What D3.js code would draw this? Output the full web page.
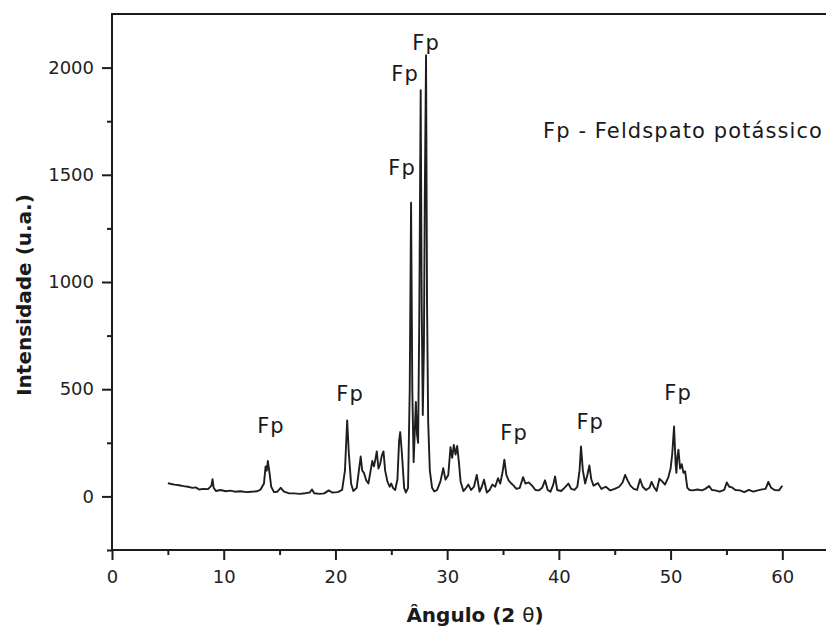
<!DOCTYPE html>
<html>
<head>
<meta charset="utf-8">
<script src="https://cdn.jsdelivr.net/npm/d3@7"></script>
<style>
  body { margin: 0; background: #fff; }
  svg { display: block; font-family: "DejaVu Sans", sans-serif; }
</style>
</head>
<body>
<svg id="xrdSvg" width="826" height="631"></svg>
<script>
      // diffractogram: 2 theta (deg) and intensity (u.a.)
      var angles = [5.0, 5.3, 5.6, 6.0, 6.4, 6.8, 7.2, 7.5, 7.8, 8.2, 8.6, 8.9, 9.0, 9.1, 9.3, 9.7,
        10.2, 10.6, 11.0, 11.5, 12.0, 12.5, 13.0, 13.3, 13.6, 13.75, 13.85, 13.95, 14.1, 14.25, 14.5, 14.8,
        15.1, 15.4, 15.8, 16.3, 16.8, 17.3, 17.7, 17.9, 18.1, 18.6, 19.0, 19.4, 19.7, 20.2, 20.6, 20.85,
        21.05, 21.2, 21.4, 21.6, 21.9, 22.1, 22.26, 22.4, 22.55, 22.75, 22.95, 23.15, 23.3, 23.45, 23.6, 23.7,
        23.85, 24.0, 24.15, 24.3, 24.45, 24.65, 24.85, 25.0, 25.15, 25.35, 25.55, 25.7, 25.8, 25.95, 26.15, 26.3,
        26.5, 26.65, 26.77, 26.88, 27.0, 27.1, 27.2, 27.3, 27.4, 27.5, 27.63, 27.72, 27.82, 27.92, 28.0, 28.11,
        28.2, 28.3, 28.45, 28.65, 28.85, 29.1, 29.4, 29.65, 29.85, 30.1, 30.3, 30.45, 30.6, 30.75, 30.9, 31.05,
        31.2, 31.45, 31.7, 31.9, 32.15, 32.4, 32.65, 32.9, 33.1, 33.3, 33.55, 33.8, 34.05, 34.3, 34.55, 34.75,
        34.95, 35.12, 35.3, 35.5, 35.75, 35.95, 36.2, 36.5, 36.8, 37.0, 37.3, 37.6, 37.9, 38.2, 38.5, 38.76,
        39.0, 39.25, 39.5, 39.66, 39.85, 40.2, 40.5, 40.85, 41.1, 41.4, 41.65, 41.85, 41.98, 42.15, 42.35, 42.55,
        42.73, 42.9, 43.1, 43.5, 43.8, 44.2, 44.6, 45.0, 45.4, 45.7, 45.93, 46.15, 46.4, 46.7, 47.0, 47.27,
        47.5, 47.8, 48.1, 48.3, 48.55, 48.75, 49.0, 49.25, 49.5, 49.8, 50.0, 50.15, 50.31, 50.45, 50.52, 50.6,
        50.7, 50.85, 51.0, 51.15, 51.3, 51.5, 51.7, 52.0, 52.4, 52.8, 53.1, 53.45, 53.7, 54.0, 54.4, 54.8,
        55.03, 55.25, 55.5, 55.8, 56.2, 56.6, 57.0, 57.4, 57.8, 58.2, 58.5, 58.75, 59.0, 59.3, 59.7, 60.0];

      var intensities = [62, 58, 55, 52, 48, 45, 40, 42, 32, 35, 34, 50, 80, 40, 25, 30,
        24, 27, 22, 24, 20, 22, 24, 32, 60, 140, 120, 165, 110, 45, 20, 22,
        40, 22, 15, 14, 12, 15, 18, 32, 15, 12, 14, 28, 18, 20, 30, 120,
        354, 200, 60, 25, 40, 120, 186, 120, 110, 75, 60, 120, 165, 140, 180, 210,
        130, 150, 190, 210, 120, 70, 45, 60, 40, 30, 80, 260, 300, 200, 40, 18,
        40, 500, 1370, 500, 160, 300, 440, 290, 250, 800, 1895, 900, 380, 700, 1400, 2058,
        900, 350, 120, 40, 23, 30, 70, 132, 78, 100, 230, 180, 240, 195, 235, 160,
        70, 25, 40, 55, 30, 45, 100, 22, 45, 78, 18, 30, 55, 45, 85, 60,
        110, 171, 100, 75, 60, 50, 35, 40, 90, 60, 65, 50, 30, 28, 40, 75,
        30, 22, 55, 93, 30, 25, 40, 60, 35, 30, 45, 120, 233, 120, 60, 100,
        144, 80, 50, 62, 35, 45, 28, 35, 45, 65, 100, 75, 50, 35, 30, 80,
        45, 30, 40, 68, 40, 25, 82, 70, 55, 90, 130, 200, 326, 150, 110, 180,
        218, 130, 150, 110, 117, 40, 30, 28, 32, 28, 35, 48, 30, 28, 22, 30,
        65, 45, 42, 30, 28, 20, 30, 22, 28, 33, 35, 68, 40, 30, 28, 50];

      var xMajorTicks = [0, 10, 20, 30, 40, 50, 60];
      var xMinorTicks = [5, 15, 25, 35, 45, 55];
      var yMajorTicks = [0, 500, 1000, 1500, 2000];
      var yMinorTicks = [-250, 250, 750, 1250, 1750];

      // peak annotations, placed in data space
      var peakLabelAngles = [14.23, 21.31, 25.96, 26.23, 28.11, 35.99, 42.8, 50.67];
      var peakLabelValues = [329, 482, 1532, 1974, 2119, 297, 348, 483];
      var peakLabelText = 'Fp';

      var legendText = 'Fp - Feldspato potássico';
      var xTitle = 'Ângulo (2 ';
      var yTitle = 'Intensidade (u.a.)';

      var width = 826;
      var height = 631;
      var margin = { top: 14, left: 112, right: -1, bottom: 81 };
      var innerWidth = width - margin.left - margin.right;
      var innerHeight = height - margin.top - margin.bottom;

      var svg;

      document.addEventListener('DOMContentLoaded', function() {
        svg = d3.select('#xrdSvg');
        drawChart();
      });

      function drawChart() {
        var ink = '#1c1c1c';

        var xScale = d3.scaleLinear()
                       .domain([0, 64])
                       .range([0, innerWidth]);
        var yScale = d3.scaleLinear()
                       .domain([-250, 2250])
                       .range([innerHeight, 0]);

        const g = svg.append('g')
                .attr('transform', 'translate('+margin.left+', '+margin.top+')');

        // frame (right edge falls just outside the picture)
        g.append('rect')
         .attr('x', 0).attr('y', 0)
         .attr('width', innerWidth + 4).attr('height', innerHeight)
         .style('fill', 'none')
         .style('stroke', ink)
         .style('stroke-width', 2);

        // axes
        var xAxis = d3.axisBottom(xScale).tickValues(xMajorTicks).tickSize(10).tickPadding(10).tickFormat(d3.format('d'));
        var xMinor = d3.axisBottom(xScale).tickValues(xMinorTicks).tickSize(5).tickFormat('');
        var yAxis = d3.axisLeft(yScale).tickValues(yMajorTicks).tickSize(10).tickPadding(8).tickFormat(d3.format('d'));
        var yMinor = d3.axisLeft(yScale).tickValues(yMinorTicks).tickSize(5).tickFormat('');

        [[xAxis, true, true], [xMinor, true, false], [yAxis, false, true], [yMinor, false, false]].forEach(function(a) {
          var ax = g.append('g').call(a[0]);
          if (a[1]) ax.attr('transform', `translate(0,${innerHeight})`);
          ax.select('.domain').remove();
          ax.selectAll('line').style('stroke', ink).style('stroke-width', 2);
          if (!a[2]) ax.selectAll('text').remove();
          ax.selectAll('text')
            .style('font-family', '"DejaVu Sans", sans-serif')
            .style('font-size', '18px')
            .style('fill', '#222');
        });

        // the pattern
        var points = d3.zip(angles, intensities);
        var line = d3.line()
                     .x(d => xScale(d[0]))
                     .y(d => yScale(d[1]));
        g.append('path')
         .datum(points)
         .attr('d', line)
         .style('fill', 'none')
         .style('stroke', '#1e1e1e')
         .style('stroke-width', 1.9)
         .style('stroke-linejoin', 'round');

        // Fp labels
        g.selectAll('text.peak')
         .data(d3.zip(peakLabelAngles, peakLabelValues))
         .enter()
         .append('text')
         .attr('class', 'peak')
         .attr('x', d => xScale(d[0]))
         .attr('y', d => yScale(d[1]))
         .attr('dy', '0.36em')
         .attr('text-anchor', 'middle')
         .style('font-size', '21px')
         .style('letter-spacing', '1px')
         .style('fill', '#1a1a1a')
         .text(peakLabelText);

        g.append('text')
         .attr('x', xScale(38.58))
         .attr('y', yScale(1709))
         .attr('dy', '0.36em')
         .style('font-size', '21px')
         .style('letter-spacing', '1.1px')
         .style('fill', '#1a1a1a')
         .text(legendText);

        // axis titles
        var xt = svg.append('text')
            .attr('x', 475)
            .attr('y', 622)
            .attr('text-anchor', 'middle')
            .style('font-size', '20px')
            .style('font-weight', 'bold')
            .style('fill', '#1a1a1a');
        xt.append('tspan').text(xTitle);
        xt.append('tspan').style('font-weight', 'normal').text('θ');
        xt.append('tspan').text(')');

        svg.append('text')
           .attr('transform', 'translate(24,295) rotate(-90)')
           .attr('dy', '0.35em')
           .attr('text-anchor', 'middle')
           .style('font-size', '20px')
           .style('font-weight', 'bold')
           .style('fill', '#1a1a1a')
           .text(yTitle);
      }
</script>
</body>
</html>
